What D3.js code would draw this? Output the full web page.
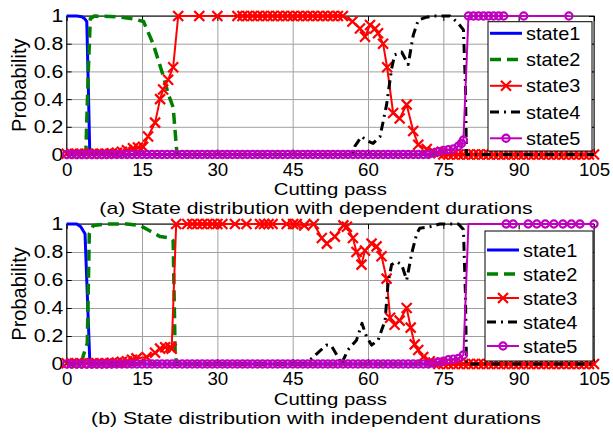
<!DOCTYPE html>
<html><head><meta charset="utf-8">
<script src="https://cdn.jsdelivr.net/npm/d3@7"></script>
<style>body{margin:0;background:#fff} text{font-family:"Liberation Sans",Arial,sans-serif;}</style>
</head><body><svg id="c" width="613" height="435"></svg>
<script>
const xTicks = [0,15,30,45,60,75,90,105];
const yTicks = [0,0.2,0.4,0.6,0.8,1];
const seriesNames = ["state1","state2","state3","state4","state5"];
const xLabel = "Cutting pass";
const yLabel = "Probability";
const titles = ["(a) State distribution with dependent durations","(b) State distribution with independent durations"];

// ---- Panel (a): dependent durations ----  [pass, probability, (0 = no marker)]
const state1A = [[0,1],[2,1],[3,0.995],[3.6,0.98],[4,0.96],[4.3,0.5],[4.6,0],[105,0]];
const state2A = [[0,0],[3.8,0],[4.3,0.6],[4.7,0.98],[5.5,1],[10,0.995],[13.2,0.98],[15.3,0.96],[17.2,0.8],[19.2,0.57],[20.2,0.44],[21.2,0.34],[21.9,0.03],[22,0],[105,0]];
const state3A = [[0,0.005],[1,0.005],[2,0.005],[3,0.005],[4,0.005],[5,0.005],[6,0.005],[7,0.005],[8,0.005],[9,0.008],[10,0.012],[11,0.02],[12,0.03],[13.2,0.045],[14.2,0.05],[15.2,0.055],[16.2,0.13],[17.6,0.23],[18.6,0.4],[19.2,0.47],[20.2,0.54],[21.2,0.63],[22.2,1],[26.4,1],[30,1],[34,1],[35,1],[36,1],[37,1],[38,1],[39,1],[40,1],[41,1],[42,1],[43,1],[44,1],[45,1],[46,1],[47,1],[48,1],[49,1],[50,1],[51,1],[52,1],[53,1],[54,1],[55,1],[56.9,0.96],[58.4,0.91],[59.4,0.85],[60.4,0.935],[61.4,0.91],[62,0.875],[63,0.8],[63.8,0.63],[65,0.3],[66.3,0.26],[67.7,0.36],[69,0.17],[70,0.07],[71.7,0.04],[73,0.02],[74,0.01],[75,0],[76,0],[77,0],[78,0],[79,0],[80,0],[81,0],[82,0],[83,0],[84,0],[85,0],[86,0],[87,0],[88,0],[89,0],[90,0],[91,0],[92,0],[93,0],[94,0],[95,0],[96,0],[97,0],[98,0],[99,0],[100,0],[101,0],[102,0],[103,0],[104,0],[105,0]];
const state4A = [[0,0],[57,0],[57.4,0.06],[58.7,0.13],[59.8,0.1],[61,0.08],[62.4,0.13],[63.7,0.36],[64.7,0.62],[65.3,0.72],[66.7,0.74],[68,0.65],[69,0.86],[70,0.97],[71.5,0.99],[73,1],[76.3,1],[77.9,0.95],[79,0.9],[79.4,0.5],[79.6,0],[105,0]];
const state5A = [[0,0],[1,0],[2,0],[3,0],[4,0],[5,0],[6,0],[7,0],[8,0],[9,0],[10,0],[11,0],[12,0],[13,0],[14,0],[15,0],[16,0],[17,0],[18,0],[19,0],[20,0],[21,0],[22,0],[23,0],[24,0],[25,0],[26,0],[27,0],[28,0],[29,0],[30,0],[31,0],[32,0],[33,0],[34,0],[35,0],[36,0],[37,0],[38,0],[39,0],[40,0],[41,0],[42,0],[43,0],[44,0],[45,0],[46,0],[47,0],[48,0],[49,0],[50,0],[51,0],[52,0],[53,0],[54,0],[55,0],[56,0],[57,0],[58,0],[59,0],[60,0],[61,0],[62,0],[63,0],[64,0],[65,0],[66,0],[67,0],[68,0],[69,0],[70,0],[71,0],[72,0],[73,0.01],[74,0.02],[75,0.03],[76,0.035],[77,0.04],[78,0.06],[78.6,0.08],[79,0.105],[80,1],[81,1],[82,1],[83,1],[84,1],[85,1],[86,1],[87,1],[91,1],[100,1]];

// ---- Panel (b): independent durations ----
const state1B = [[0,1],[2,1],[2.8,0.98],[3.65,0.93],[4.6,0.02],[4.8,0],[105,0]];
const state2B = [[0,0],[3,0],[3.3,0.06],[4.1,0.15],[4.5,0.93],[5.3,0.99],[8,1],[12,1],[14.6,0.99],[16.6,0.95],[18.6,0.91],[20.6,0.9],[21.2,0.88],[21.6,0.07],[21.9,0],[105,0]];
const state3B = [[0,0.005],[1,0.005],[2,0.005],[3,0.005],[4,0.005],[5,0.005],[6,0.005],[7,0.005],[8,0.005],[9,0.008],[10,0.01],[11,0.015],[12,0.02],[13,0.03],[13.9,0.04],[15.9,0.05],[17.6,0.08],[18.6,0.11],[19.6,0.12],[20.6,0.12],[20.9,0.11],[21.8,1],[24,1],[25,1],[26,1],[27,1],[28,1],[29,1],[30,1],[31,1],[33.5,1],[35.8,1],[38.5,1],[39.3,1],[40.2,1],[41,1],[43.8,1],[45.1,1],[45.8,1],[47.3,0.99],[49.2,1],[50.8,0.9],[51.8,0.86],[53.4,0.91],[55.1,0.99],[55.8,0.98],[57,0.9],[57.7,0.8],[58.7,0.71],[59.4,0.81],[60.7,0.86],[61.7,0.84],[62.7,0.77],[63.7,0.61],[64.4,0.33],[65.3,0.28],[66.3,0.31],[67.7,0.4],[68.5,0.26],[69.3,0.14],[70,0.1],[71,0.05],[72.3,0.02],[73,0.01],[74,0],[75,0],[76,0],[77,0],[78,0],[79,0],[80,0],[81,0],[82,0],[83,0],[84,0],[85,0],[86,0],[87,0],[88,0],[89,0],[90,0],[91,0],[92,0],[93,0],[94,0],[95,0],[96,0],[97,0],[98,0],[99,0],[100,0],[101,0],[102,0],[103,0],[104,0],[105,0]];
const state4B = [[0,0],[47,0],[48.5,0.03],[50,0.08],[51.7,0.135],[52.7,0.13],[54,0.05],[54.7,0],[56,0.1],[57.7,0.17],[58.8,0.29],[59.7,0.195],[60.7,0.135],[62,0.17],[63.4,0.31],[64,0.58],[64.7,0.71],[65.7,0.73],[66.7,0.71],[67.7,0.6],[68.7,0.79],[69.7,0.93],[70.3,0.97],[72.3,0.98],[74.3,1],[78,1],[79,0.96],[79.4,0.5],[79.6,0],[105,0]];
const state5B = [[0,0],[1,0],[2,0],[3,0],[4,0],[5,0],[6,0],[7,0],[8,0],[9,0],[10,0],[11,0],[12,0],[13,0],[14,0],[15,0],[16,0],[17,0],[18,0],[19,0],[20,0],[21,0],[22,0],[23,0],[24,0],[25,0],[26,0],[27,0],[28,0],[29,0],[30,0],[31,0],[32,0],[33,0],[34,0],[35,0],[36,0],[37,0],[38,0],[39,0],[40,0],[41,0],[42,0],[43,0],[44,0],[45,0],[46,0],[47,0],[48,0],[49,0],[50,0],[51,0],[52,0],[53,0],[54,0],[55,0],[56,0],[57,0],[58,0],[59,0],[60,0],[61,0],[62,0],[63,0],[64,0],[65,0],[66,0],[67,0],[68,0],[69,0],[70,0],[71,0],[72,0],[73,0.005],[74,0.015],[75,0.02],[76,0.03],[77,0.035],[78,0.04],[79,0.065],[80,1,0],[87.5,1],[88.9,1],[91.9,1],[93.6,1],[95.3,1],[97,1],[98.8,1],[100.5,1],[102.2,1],[105,1]];

const styles = [
  {color:"#0000ff", width:3, dash:null, marker:null},
  {color:"#008000", width:3.5, dash:"11,6", marker:null},
  {color:"#ff0000", width:2, dash:null, marker:"x"},
  {color:"#000000", width:3, dash:"9,5,2,5", marker:null},
  {color:"#bf00bf", width:2, dash:null, marker:"o"}
];

const svg = d3.select("#c");
svg.append("rect").attr("width",613).attr("height",435).attr("fill","#fff");
const x = d3.scaleLinear([0,105],[66.7,594]);
const gridColor = "#a0a0a0";

const panels = [
  {top:16, bottom:154.5, data:[state1A,state2A,state3A,state4A,state5A], title:titles[0],
   legend:{x0:488,x1:592,y0:21.7,y1:151,row0:33.3,dy:26.25}},
  {top:224, bottom:364, data:[state1B,state2B,state3B,state4B,state5B], title:titles[1],
   legend:{x0:485,x1:593,y0:231,y1:361,row0:250,dy:24}}
];

function drawMarker(g, type, cx, cy, st){
  if(type==="x"){
    g.append("path").attr("d","M-5,-5L5,5M-5,5L5,-5")
      .attr("transform",`translate(${cx},${cy})`)
      .attr("stroke",st.color).attr("stroke-width",2.2).attr("fill","none");
  } else if(type==="o"){
    g.append("circle").attr("cx",cx).attr("cy",cy).attr("r",3.6)
      .attr("stroke",st.color).attr("stroke-width",2.2).attr("fill","none");
  }
}

// horizontally stretched text helper
function label(g, tx, ty, str, fs, sx, anchor){
  return g.append("g").attr("transform",`translate(${tx},${ty}) scale(${sx},1)`)
    .append("text").attr("text-anchor",anchor||"middle").attr("font-size",fs).attr("fill","#000").text(str);
}

panels.forEach(p=>{
  const y = d3.scaleLinear([0,1],[p.bottom,p.top]);
  const W = x.range()[1]-x.range()[0], H = p.bottom-p.top;
  const g = svg.append("g");
  // grid
  g.append("g").attr("transform",`translate(0,${p.bottom})`)
    .call(d3.axisBottom(x).tickValues(xTicks).tickSize(-H).tickFormat(""))
    .call(s=>{s.select(".domain").remove(); s.selectAll("line").attr("stroke",gridColor).attr("stroke-width",1);});
  g.append("g").attr("transform",`translate(${x.range()[0]},0)`)
    .call(d3.axisLeft(y).tickValues(yTicks).tickSize(-W).tickFormat(""))
    .call(s=>{s.select(".domain").remove(); s.selectAll("line").attr("stroke",gridColor).attr("stroke-width",1);});
  // box
  g.append("rect").attr("x",x.range()[0]).attr("y",p.top).attr("width",W).attr("height",H)
    .attr("fill","none").attr("stroke","#000").attr("stroke-width",1);
  // axes
  const styleAxis = (fs,sx) => s=>{s.select(".domain").remove(); s.selectAll("line").attr("stroke","#000");
    s.selectAll("text").attr("font-size",fs).attr("font-family","Liberation Sans, Arial, sans-serif").attr("fill","#000")
      .attr("transform",`scale(${sx},1)`);};
  g.append("g").attr("transform",`translate(0,${p.bottom})`)
    .call(d3.axisBottom(x).tickValues(xTicks).tickSizeInner(-5).tickSizeOuter(0).tickPadding(8.5).tickFormat(d3.format("d")))
    .call(styleAxis(18,1.04));
  g.append("g").attr("transform",`translate(0,${p.top})`)
    .call(d3.axisTop(x).tickValues(xTicks).tickSizeInner(-5).tickSizeOuter(0).tickFormat(""))
    .call(styleAxis(18,1));
  g.append("g").attr("transform",`translate(${x.range()[0]},0)`)
    .call(d3.axisLeft(y).tickValues(yTicks).tickSizeInner(-5).tickSizeOuter(0).tickPadding(3).tickFormat(d3.format("~g")))
    .call(styleAxis(18.5,1.15));
  g.append("g").attr("transform",`translate(${x.range()[1]},0)`)
    .call(d3.axisRight(y).tickValues(yTicks).tickSizeInner(-5).tickSizeOuter(0).tickFormat(""))
    .call(styleAxis(18,1));
  // series
  const line = d3.line().x(d=>x(d[0])).y(d=>y(d[1]));
  p.data.forEach((arr,i)=>{
    const st = styles[i];
    const sg = g.append("g");
    sg.append("path").attr("d",line(arr)).attr("fill","none").attr("stroke",st.color)
      .attr("stroke-width",st.width).attr("stroke-dasharray",st.dash).attr("stroke-linejoin","round");
    if(st.marker){
      arr.forEach(d=>{ if(d[2]!==0) drawMarker(sg, st.marker, x(d[0]), y(d[1]), st); });
    }
  });
  // labels
  label(g, (x.range()[0]+x.range()[1])/2, p.bottom+40.5, xLabel, 17, 1.2);
  g.append("text").attr("transform",`translate(26,${(p.top+p.bottom)/2}) rotate(-90)`)
    .attr("text-anchor","middle").attr("font-size",20).text(yLabel);
  label(g, 316, p.bottom+59.5, p.title, 17, 1.25);
  // legend
  const L = p.legend;
  const lg = g.append("g");
  lg.append("rect").attr("x",L.x0).attr("y",L.y0).attr("width",L.x1-L.x0).attr("height",L.y1-L.y0)
    .attr("fill","#fff").attr("stroke","#000").attr("stroke-width",1);
  seriesNames.forEach((nm,i)=>{
    const st = styles[i], yy = L.row0 + i*L.dy;
    lg.append("line").attr("x1",L.x0+2).attr("x2",L.x0+34).attr("y1",yy).attr("y2",yy)
      .attr("stroke",st.color).attr("stroke-width",st.width).attr("stroke-dasharray",st.dash);
    if(st.marker) drawMarker(lg, st.marker, L.x0+18, yy, st);
    label(lg, L.x0+38, yy, nm, 19, 1.05, "start").attr("dy","0.35em");
  });
});
</script></body></html>
